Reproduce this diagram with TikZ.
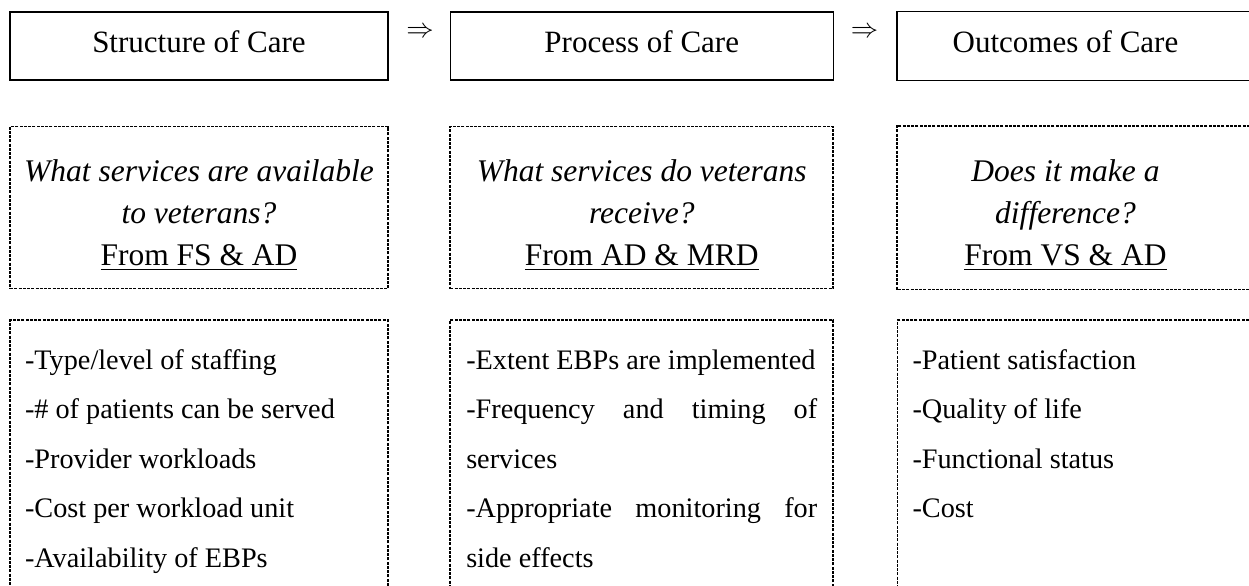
\documentclass[tikz,border=0pt]{standalone}
\usepackage{fontspec}
\setmainfont{Liberation Serif}
\usetikzlibrary{positioning}

\newlength\pxu
\setlength\pxu{0.4pt}
\newcommand\asktop{\rule{0pt}{15pt}}
\hyphenpenalty=10000
\exhyphenpenalty=10000
\tolerance=10000

\begin{document}
\begin{tikzpicture}[x=0.4pt, y=-0.4pt,
  frame/.style={line width=0.5pt},
  dashline/.style={line width=0.75pt, dash pattern=on 1.2pt off 0.5pt},
  headbox/.style={draw, frame, minimum height=68\pxu, inner sep=0pt,
    font=\fontsize{12.4}{15}\selectfont, text height=8.4pt, text depth=2.9pt},
  askbox/.style={draw, dashline, minimum height=162\pxu, align=center,
    font=\fontsize{12.6}{16.8}\selectfont},
  listbox/.style={draw, dashline, inner xsep=15\pxu, inner ysep=29\pxu,
    font=\fontsize{11.3}{19.8}\selectfont},
  arrowsym/.style={inner sep=0pt, font=\fontsize{10.5}{12}\selectfont}]

  \useasboundingbox (0,0) rectangle (1249,586);
  \clip (0,0) rectangle (1249,586);

  % top row
  \node[headbox, minimum width=378\pxu] (sc) at (199,46) {Structure of Care};
  \node[headbox, minimum width=383\pxu] (pc) [right=61\pxu of sc] {Process of Care};
  \node[headbox, draw=none, minimum width=336\pxu] (oc) [right=63\pxu of pc] {Outcomes of Care};
  \draw[frame] (oc.north west) ++(400,0) -- (oc.north west) -- (oc.south west) -- ++(400,0);

  \node[arrowsym] (a1) at (420,32.5) {$\Rightarrow$};
  \node[arrowsym] (a2) at (864.5,32.5) {$\Rightarrow$};

  % questions
  \node[askbox, minimum width=378\pxu] (sq) [below=45\pxu of sc]
    {\asktop\textit{What services are available}\\\textit{to veterans?}\\\underline{From FS \& AD}};
  \node[askbox, minimum width=383\pxu] (pq) [below=45\pxu of pc]
    {\asktop\textit{What services do veterans}\\\textit{receive?}\\\underline{From AD \& MRD}};
  \node[askbox, draw=none, minimum width=336\pxu] (oq) [below=45\pxu of oc]
    {\asktop\textit{Does it make a}\\\textit{difference?}\\\underline{From VS \& AD}};
  \draw[dashline] (oq.north west) ++(400,0) -- (oq.north west) -- (oq.south west) -- ++(400,0);

  % measures
  \node[listbox] (sl) [below=30\pxu of sq]
    {\parbox[t][280\pxu][t]{348\pxu}{-Type/level of staffing\par
      -\# of patients can be served\par
      -Provider workloads\par
      -Cost per workload unit\par
      -Availability of EBPs}};
  \node[listbox, inner xsep=16\pxu] (pl) [below=30\pxu of pq]
    {\parbox[t][280\pxu][t]{351\pxu}{-Extent EBPs are implemented\par
      -Frequency and timing of services\par
      -Appropriate monitoring for side effects}};
  \node[listbox, anchor=north west] (ol) at ([yshift=-30\pxu]oq.south west)
    {\parbox[t][280\pxu][t]{355\pxu}{-Patient satisfaction\par
      -Quality of life\par
      -Functional status\par
      -Cost}};

\end{tikzpicture}
\end{document}
